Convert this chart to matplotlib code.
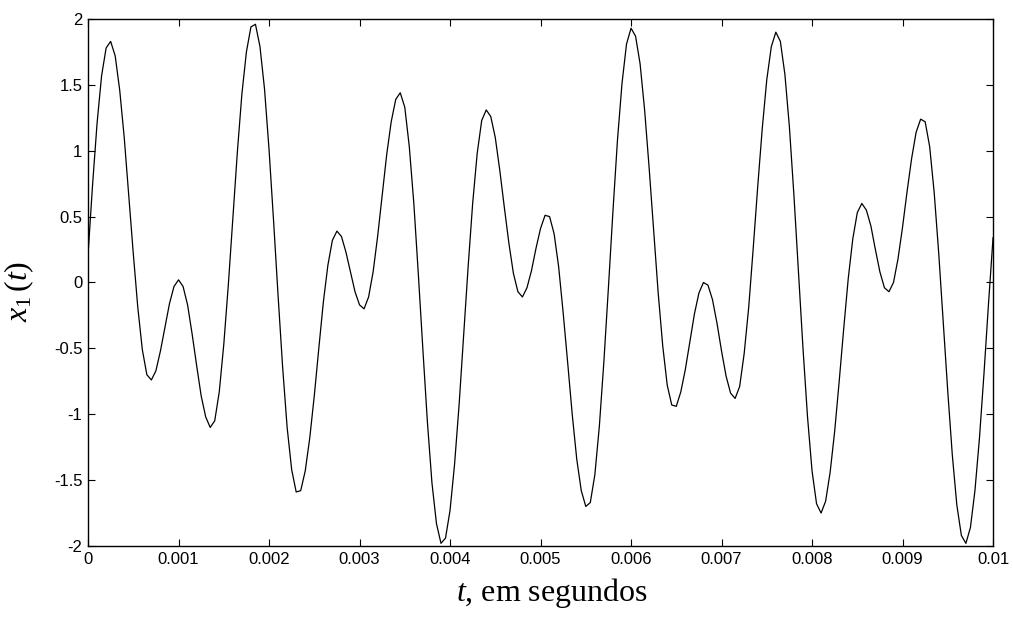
import matplotlib
matplotlib.use("Agg")
import matplotlib.pyplot as plt
import numpy as np

t_step = 0.00005
x1 = [0.21, 0.74, 1.21, 1.57, 1.78, 1.83, 1.72, 1.46, 1.10, 0.66,
      0.22, -0.19, -0.51, -0.70, -0.74, -0.67, -0.52, -0.34, -0.16, -0.03,
      0.02, -0.03, -0.17, -0.39, -0.63, -0.86, -1.02, -1.10, -1.05, -0.83,
      -0.47, -0.02, 0.49, 0.99, 1.43, 1.75, 1.94, 1.96, 1.79, 1.47,
      1.01, 0.47, -0.10, -0.64, -1.10, -1.42, -1.59, -1.58, -1.43, -1.18,
      -0.86, -0.50, -0.15, 0.13, 0.32, 0.39, 0.35, 0.23, 0.08, -0.07,
      -0.17, -0.20, -0.11, 0.08, 0.35, 0.66, 0.97, 1.22, 1.39, 1.44,
      1.33, 1.03, 0.60, 0.06, -0.51, -1.06, -1.52, -1.83, -1.98, -1.94,
      -1.73, -1.38, -0.93, -0.41, 0.12, 0.60, 0.98, 1.23, 1.31, 1.26,
      1.10, 0.85, 0.57, 0.30, 0.07, -0.07, -0.11, -0.04, 0.09, 0.26,
      0.41, 0.51, 0.50, 0.37, 0.12, -0.23, -0.61, -1.00, -1.34, -1.58,
      -1.70, -1.67, -1.46, -1.09, -0.60, -0.04, 0.54, 1.08, 1.51, 1.81,
      1.93, 1.87, 1.66, 1.31, 0.87, 0.39, -0.08, -0.48, -0.78, -0.93,
      -0.94, -0.83, -0.66, -0.45, -0.24, -0.08, 0.00, -0.02, -0.13, -0.31,
      -0.52, -0.71, -0.84, -0.88, -0.79, -0.54, -0.19, 0.26, 0.73, 1.17,
      1.54, 1.79, 1.90, 1.83, 1.58, 1.18, 0.66, 0.08, -0.50, -1.02,
      -1.43, -1.68, -1.75, -1.66, -1.44, -1.13, -0.75, -0.35, 0.03, 0.33,
      0.53, 0.60, 0.55, 0.43, 0.25, 0.08, -0.04, -0.07, 0.00, 0.18,
      0.42, 0.69, 0.94, 1.14, 1.24, 1.22, 1.03, 0.68, 0.22, -0.30,
      -0.83, -1.31, -1.69, -1.92, -1.98, -1.86, -1.58, -1.18, -0.69, -0.16,
      0.34]
t = np.arange(len(x1)) * t_step

xticks = [0, 0.001, 0.002, 0.003, 0.004, 0.005, 0.006, 0.007, 0.008, 0.009, 0.01]
xtick_labels = ['0', '0.001', '0.002', '0.003', '0.004', '0.005', '0.006',
                '0.007', '0.008', '0.009', '0.01']
yticks = [-2, -1.5, -1, -0.5, 0, 0.5, 1, 1.5, 2]
ytick_labels = ['-2', '-1.5', '-1', '-0.5', '0', '0.5', '1', '1.5', '2']

plt.rcParams['font.family'] = ['Liberation Sans', 'DejaVu Sans']
plt.rcParams['mathtext.fontset'] = 'custom'
plt.rcParams['mathtext.rm'] = 'Liberation Serif'
plt.rcParams['mathtext.it'] = 'Liberation Serif:italic'
plt.rcParams['axes.unicode_minus'] = False

fig = plt.figure(figsize=(10.13, 6.17), dpi=100)
ax = fig.add_axes([0.0869, 0.1151, 0.8934, 0.8541])

ax.plot(t, x1, color='black', linewidth=0.9)

ax.set_xlim(0, 0.01)
ax.set_ylim(-2, 2)
ax.set_xticks(xticks)
ax.set_xticklabels(xtick_labels)
ax.set_yticks(yticks)
ax.set_yticklabels(ytick_labels)
ax.tick_params(direction='in', length=5, width=0.8, top=True, right=True,
               labelsize=12, pad=4)
for s in ax.spines.values():
    s.set_linewidth(1.0)

ax.set_xlabel(r'$t$, em segundos', fontsize=23, family='Liberation Serif')
ax.xaxis.set_label_coords(0.5127, -0.057)
ax.set_ylabel(r'$x_1\,(t)$', fontsize=23)
ax.yaxis.set_label_coords(-0.058, 0.483)

fig.savefig('out.png', dpi=100)
